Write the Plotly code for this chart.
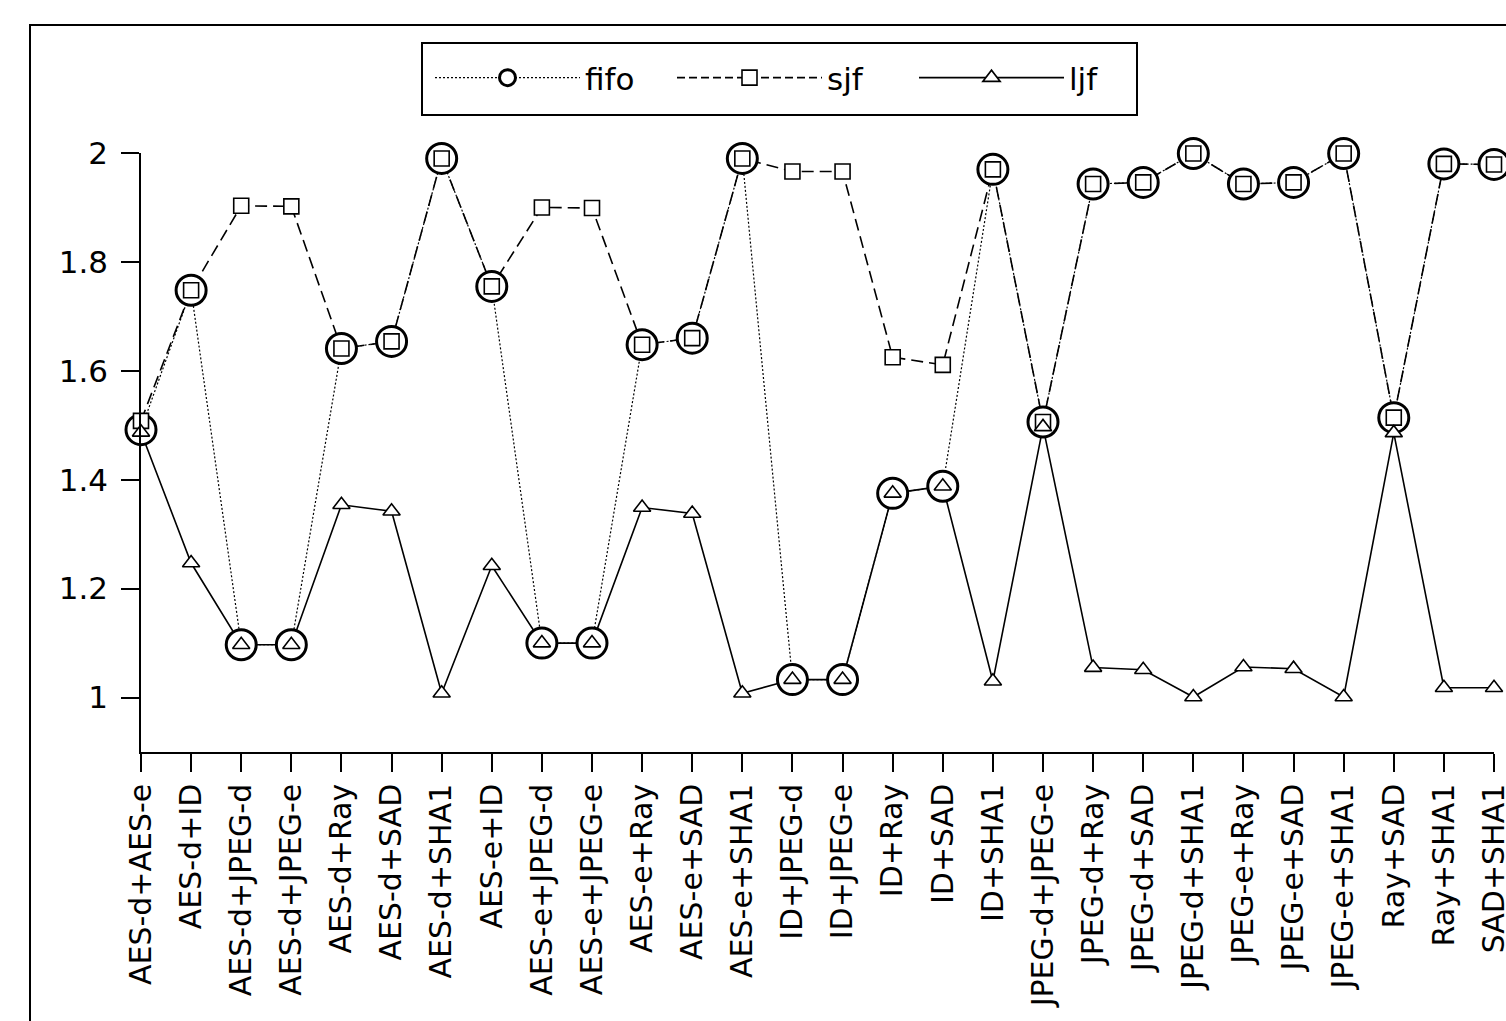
import plotly.graph_objects as go

categories = [
    "AES-d+AES-e", "AES-d+ID", "AES-d+JPEG-d", "AES-d+JPEG-e", "AES-d+Ray",
    "AES-d+SAD", "AES-d+SHA1", "AES-e+ID", "AES-e+JPEG-d", "AES-e+JPEG-e",
    "AES-e+Ray", "AES-e+SAD", "AES-e+SHA1", "ID+JPEG-d", "ID+JPEG-e",
    "ID+Ray", "ID+SAD", "ID+SHA1", "JPEG-d+JPEG-e", "JPEG-d+Ray",
    "JPEG-d+SAD", "JPEG-d+SHA1", "JPEG-e+Ray", "JPEG-e+SAD", "JPEG-e+SHA1",
    "Ray+SAD", "Ray+SHA1", "SAD+SHA1",
]

fifo = [1.492, 1.748, 1.097, 1.097, 1.641, 1.654, 1.990, 1.755, 1.100, 1.100,
        1.648, 1.660, 1.990, 1.033, 1.033, 1.375, 1.388, 1.970, 1.506, 1.943,
        1.946, 1.999, 1.943, 1.946, 1.999, 1.514, 1.980, 1.979]

sjf = [1.508, 1.748, 1.903, 1.902, 1.641, 1.654, 1.990, 1.755, 1.900, 1.899,
       1.648, 1.660, 1.990, 1.966, 1.966, 1.625, 1.611, 1.970, 1.506, 1.943,
       1.946, 1.999, 1.943, 1.946, 1.999, 1.514, 1.980, 1.979]

ljf = [1.487, 1.247, 1.097, 1.097, 1.354, 1.342, 1.008, 1.242, 1.100, 1.100,
       1.349, 1.338, 1.008, 1.033, 1.033, 1.375, 1.388, 1.030, 1.497, 1.055,
       1.051, 1.001, 1.056, 1.053, 1.001, 1.486, 1.018, 1.018]

y_ticks = [1, 1.2, 1.4, 1.6, 1.8, 2]
y_tick_text = ["1", "1.2", "1.4", "1.6", "1.8", "2"]

FONT = "DejaVu Sans"

fig = go.Figure()

# connecting lines first (so the white-filled markers sit on top of them)
fig.add_trace(go.Scatter(x=categories, y=fifo, mode="lines", showlegend=False,
                         line=dict(color="black", width=1.2, dash="2px,2px"),
                         cliponaxis=False, hoverinfo="skip"))
fig.add_trace(go.Scatter(x=categories, y=sjf, mode="lines", showlegend=False,
                         line=dict(color="black", width=1.6, dash="12px,6px"),
                         cliponaxis=False, hoverinfo="skip"))
fig.add_trace(go.Scatter(x=categories, y=ljf, mode="lines", showlegend=False,
                         line=dict(color="black", width=1.6),
                         cliponaxis=False, hoverinfo="skip"))

# markers
fig.add_trace(go.Scatter(x=categories, y=fifo, mode="markers", showlegend=False,
                         marker=dict(symbol="circle", size=30, color="white",
                                     line=dict(color="black", width=3)),
                         cliponaxis=False))
fig.add_trace(go.Scatter(x=categories, y=sjf, mode="markers", showlegend=False,
                         marker=dict(symbol="square", size=15, color="white",
                                     line=dict(color="black", width=1.6)),
                         cliponaxis=False))
fig.add_trace(go.Scatter(x=categories, y=ljf, mode="markers", showlegend=False,
                         marker=dict(symbol="triangle-up", size=15, color="white",
                                     line=dict(color="black", width=1.6)),
                         cliponaxis=False))

# legend entries
fig.add_trace(go.Scatter(x=[None], y=[None], mode="lines+markers", name="fifo",
                         line=dict(color="black", width=1.2, dash="2px,2px"),
                         marker=dict(symbol="circle", size=30, color="white",
                                     line=dict(color="black", width=3))))
fig.add_trace(go.Scatter(x=[None], y=[None], mode="lines+markers", name="sjf",
                         line=dict(color="black", width=1.6, dash="8px,4px"),
                         marker=dict(symbol="square", size=15, color="white",
                                     line=dict(color="black", width=1.6))))
fig.add_trace(go.Scatter(x=[None], y=[None], mode="lines+markers", name="ljf",
                         line=dict(color="black", width=1.6),
                         marker=dict(symbol="triangle-up", size=15, color="white",
                                     line=dict(color="black", width=1.6))))

W, H = 1506, 1021
L, R, T, B = 141, 12, 153, 269
pw, ph = W - L - R, H - T - B

def px_x(p):
    return (p - L) / pw

def px_y(p):
    return (H - B - p) / ph

fig.update_layout(
    width=W, height=H,
    margin=dict(l=L, r=R, t=T, b=B, pad=0, autoexpand=False),
    paper_bgcolor="white", plot_bgcolor="white",
    font=dict(family=FONT, size=30, color="black"),
    showlegend=True,
    legend=dict(
        orientation="h",
        x=px_x(430), xanchor="left",
        y=px_y(51), yanchor="top",
        borderwidth=0,
        bgcolor="rgba(0,0,0,0)",
        font=dict(family=FONT, size=31, color="black"),
        itemwidth=145,
        entrywidth=82, entrywidthmode="pixels",
        itemsizing="trace",
        traceorder="normal",
    ),
    xaxis=dict(
        type="category",
        categoryorder="array", categoryarray=categories,
        range=[0, len(categories) - 1],
        automargin=False,
        showline=True, linecolor="black", linewidth=1.5,
        ticks="outside", ticklen=18, tickwidth=1.5, tickcolor="black",
        tickangle=-90,
        tickfont=dict(family=FONT, size=30, color="black"),
        ticklabelstandoff=0,
        showgrid=False, zeroline=False, mirror=False,
    ),
    yaxis=dict(
        range=[0.9, 2.0],
        automargin=False,
        tickmode="array", tickvals=y_ticks, ticktext=y_tick_text,
        showline=True, linecolor="black", linewidth=1.5,
        ticks="outside", ticklen=18, tickwidth=1.5, tickcolor="black",
        tickfont=dict(family=FONT, size=31, color="black"),
        ticklabelstandoff=7,
        showgrid=False, zeroline=False, mirror=False,
    ),
    shapes=[
        dict(type="rect", xref="paper", yref="paper",
             x0=px_x(30), x1=px_x(1540), y0=px_y(1060), y1=px_y(25),
             line=dict(color="black", width=2), fillcolor="rgba(0,0,0,0)",
             layer="below"),
        dict(type="rect", xref="paper", yref="paper",
             x0=px_x(422), x1=px_x(1137), y0=px_y(115), y1=px_y(43),
             line=dict(color="black", width=2), fillcolor="rgba(0,0,0,0)",
             layer="below"),
    ],
)

fig.write_html("out.html")
